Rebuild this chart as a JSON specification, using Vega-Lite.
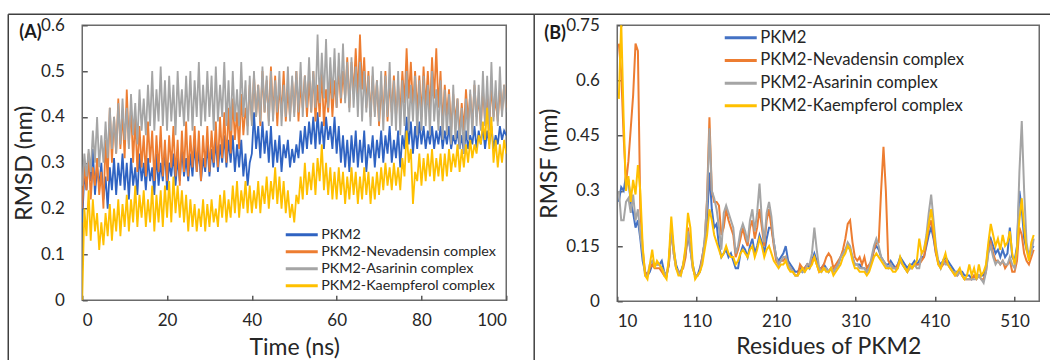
{
"$schema": "https://vega.github.io/schema/vega-lite/v6.json",
"background": "white",
"padding": {"left": 6.25, "top": 12.25, "right": 0, "bottom": 0},
"config": {
  "font": "Lato",
  "view": {"stroke": "#6b6b6b", "strokeWidth": 1.5},
  "axis": {"domain": false, "grid": false, "ticks": true, "tickSize": -5, "tickColor": "#595959", "tickWidth": 1.5, "labelFontSize": 17, "labelColor": "#262626", "labelFont": "Lato", "titleFont": "Lato", "titleFontSize": 23, "titleFontWeight": "normal", "titleColor": "#262626"},
  "legend": {"labelFont": "Lato", "labelColor": "#262626", "labelLimit": 0}
},
"bounds": "flush",
"spacing": 111,
"resolve": {"legend": {"color": "independent"}, "scale": {"color": "independent"}},
"datasets": {
"names": [{"k": "a", "name": "PKM2"}, {"k": "b", "name": "PKM2-Nevadensin complex"}, {"k": "c", "name": "PKM2-Asarinin complex"}, {"k": "d", "name": "PKM2-Kaempferol complex"}],
"rmsd": [
{"t":0,"a":0.17,"b":0.2,"c":0.25,"d":0},{"t":0.5,"a":0.28,"b":0.3,"c":0.32,"d":0.2},{"t":1,"a":0.24,"b":0.24,"c":0.27,"d":0.14},{"t":1.5,"a":0.31,"b":0.32,"c":0.33,"d":0.24},{"t":2,"a":0.26,"b":0.22,"c":0.28,"d":0.13},{"t":2.5,"a":0.33,"b":0.29,"c":0.37,"d":0.22},{"t":3,"a":0.23,"b":0.25,"c":0.3,"d":0.15},{"t":3.5,"a":0.29,"b":0.31,"c":0.4,"d":0.19},{"t":4,"a":0.25,"b":0.23,"c":0.29,"d":0.11},{"t":4.5,"a":0.3,"b":0.28,"c":0.36,"d":0.17},
{"t":5,"a":0.22,"b":0.2,"c":0.3,"d":0.12},{"t":5.5,"a":0.27,"b":0.35,"c":0.39,"d":0.19},{"t":6,"a":0.2,"b":0.26,"c":0.31,"d":0.14},{"t":6.5,"a":0.29,"b":0.42,"c":0.42,"d":0.21},{"t":7,"a":0.24,"b":0.3,"c":0.33,"d":0.13},{"t":7.5,"a":0.31,"b":0.4,"c":0.4,"d":0.2},{"t":8,"a":0.23,"b":0.32,"c":0.32,"d":0.15},{"t":8.5,"a":0.3,"b":0.44,"c":0.43,"d":0.22},{"t":9,"a":0.25,"b":0.33,"c":0.34,"d":0.14},{"t":9.5,"a":0.32,"b":0.41,"c":0.44,"d":0.21},
{"t":10,"a":0.24,"b":0.31,"c":0.35,"d":0.16},{"t":10.5,"a":0.3,"b":0.46,"c":0.42,"d":0.23},{"t":11,"a":0.22,"b":0.34,"c":0.33,"d":0.15},{"t":11.5,"a":0.31,"b":0.42,"c":0.45,"d":0.22},{"t":12,"a":0.25,"b":0.3,"c":0.36,"d":0.17},{"t":12.5,"a":0.29,"b":0.4,"c":0.43,"d":0.25},{"t":13,"a":0.23,"b":0.28,"c":0.34,"d":0.16},{"t":13.5,"a":0.32,"b":0.38,"c":0.46,"d":0.23},{"t":14,"a":0.26,"b":0.29,"c":0.37,"d":0.18},{"t":14.5,"a":0.3,"b":0.36,"c":0.44,"d":0.24},
{"t":15,"a":0.24,"b":0.27,"c":0.36,"d":0.16},{"t":15.5,"a":0.31,"b":0.39,"c":0.47,"d":0.22},{"t":16,"a":0.26,"b":0.3,"c":0.38,"d":0.17},{"t":16.5,"a":0.29,"b":0.37,"c":0.5,"d":0.25},{"t":17,"a":0.23,"b":0.26,"c":0.37,"d":0.15},{"t":17.5,"a":0.32,"b":0.36,"c":0.46,"d":0.23},{"t":18,"a":0.25,"b":0.28,"c":0.39,"d":0.17},{"t":18.5,"a":0.3,"b":0.38,"c":0.51,"d":0.24},{"t":19,"a":0.26,"b":0.27,"c":0.38,"d":0.16},{"t":19.5,"a":0.33,"b":0.35,"c":0.48,"d":0.25},
{"t":20,"a":0.24,"b":0.26,"c":0.37,"d":0.18},{"t":20.5,"a":0.3,"b":0.36,"c":0.49,"d":0.26},{"t":21,"a":0.27,"b":0.29,"c":0.39,"d":0.17},{"t":21.5,"a":0.32,"b":0.38,"c":0.47,"d":0.27},{"t":22,"a":0.25,"b":0.27,"c":0.36,"d":0.19},{"t":22.5,"a":0.31,"b":0.35,"c":0.5,"d":0.25},{"t":23,"a":0.26,"b":0.25,"c":0.4,"d":0.18},{"t":23.5,"a":0.33,"b":0.37,"c":0.46,"d":0.24},{"t":24,"a":0.27,"b":0.28,"c":0.38,"d":0.17},{"t":24.5,"a":0.31,"b":0.39,"c":0.49,"d":0.23},
{"t":25,"a":0.26,"b":0.27,"c":0.39,"d":0.15},{"t":25.5,"a":0.32,"b":0.36,"c":0.5,"d":0.22},{"t":26,"a":0.27,"b":0.29,"c":0.37,"d":0.16},{"t":26.5,"a":0.34,"b":0.38,"c":0.48,"d":0.21},{"t":27,"a":0.28,"b":0.28,"c":0.4,"d":0.15},{"t":27.5,"a":0.33,"b":0.37,"c":0.52,"d":0.2},{"t":28,"a":0.26,"b":0.26,"c":0.38,"d":0.16},{"t":28.5,"a":0.31,"b":0.36,"c":0.47,"d":0.22},{"t":29,"a":0.28,"b":0.29,"c":0.39,"d":0.15},{"t":29.5,"a":0.34,"b":0.38,"c":0.5,"d":0.21},
{"t":30,"a":0.27,"b":0.28,"c":0.4,"d":0.16},{"t":30.5,"a":0.33,"b":0.37,"c":0.49,"d":0.22},{"t":31,"a":0.29,"b":0.3,"c":0.37,"d":0.17},{"t":31.5,"a":0.35,"b":0.39,"c":0.51,"d":0.2},{"t":32,"a":0.28,"b":0.29,"c":0.39,"d":0.16},{"t":32.5,"a":0.34,"b":0.4,"c":0.47,"d":0.23},{"t":33,"a":0.3,"b":0.31,"c":0.4,"d":0.18},{"t":33.5,"a":0.36,"b":0.41,"c":0.52,"d":0.24},{"t":34,"a":0.29,"b":0.3,"c":0.38,"d":0.17},{"t":34.5,"a":0.35,"b":0.42,"c":0.48,"d":0.22},
{"t":35,"a":0.3,"b":0.32,"c":0.37,"d":0.18},{"t":35.5,"a":0.36,"b":0.44,"c":0.5,"d":0.25},{"t":36,"a":0.28,"b":0.35,"c":0.39,"d":0.19},{"t":36.5,"a":0.34,"b":0.41,"c":0.46,"d":0.26},{"t":37,"a":0.29,"b":0.33,"c":0.38,"d":0.18},{"t":37.5,"a":0.35,"b":0.45,"c":0.52,"d":0.24},{"t":38,"a":0.27,"b":0.36,"c":0.4,"d":0.2},{"t":38.5,"a":0.32,"b":0.42,"c":0.48,"d":0.26},{"t":39,"a":0.25,"b":0.38,"c":0.36,"d":0.19},{"t":39.5,"a":0.3,"b":0.47,"c":0.49,"d":0.25},
{"t":40,"a":0.32,"b":0.39,"c":0.38,"d":0.19},{"t":40.5,"a":0.41,"b":0.49,"c":0.5,"d":0.24},{"t":41,"a":0.33,"b":0.4,"c":0.4,"d":0.2},{"t":41.5,"a":0.38,"b":0.47,"c":0.47,"d":0.26},{"t":42,"a":0.31,"b":0.38,"c":0.39,"d":0.19},{"t":42.5,"a":0.39,"b":0.5,"c":0.51,"d":0.25},{"t":43,"a":0.32,"b":0.41,"c":0.41,"d":0.21},{"t":43.5,"a":0.37,"b":0.48,"c":0.49,"d":0.27},{"t":44,"a":0.3,"b":0.39,"c":0.38,"d":0.2},{"t":44.5,"a":0.38,"b":0.51,"c":0.5,"d":0.26},
{"t":45,"a":0.29,"b":0.4,"c":0.39,"d":0.22},{"t":45.5,"a":0.35,"b":0.49,"c":0.48,"d":0.29},{"t":46,"a":0.3,"b":0.38,"c":0.41,"d":0.21},{"t":46.5,"a":0.36,"b":0.47,"c":0.5,"d":0.27},{"t":47,"a":0.28,"b":0.41,"c":0.38,"d":0.2},{"t":47.5,"a":0.34,"b":0.5,"c":0.47,"d":0.26},{"t":48,"a":0.31,"b":0.39,"c":0.4,"d":0.19},{"t":48.5,"a":0.35,"b":0.46,"c":0.51,"d":0.24},{"t":49,"a":0.29,"b":0.4,"c":0.39,"d":0.18},{"t":49.5,"a":0.33,"b":0.48,"c":0.49,"d":0.21},
{"t":50,"a":0.3,"b":0.41,"c":0.4,"d":0.17},{"t":50.5,"a":0.34,"b":0.5,"c":0.5,"d":0.23},{"t":51,"a":0.31,"b":0.39,"c":0.41,"d":0.21},{"t":51.5,"a":0.37,"b":0.47,"c":0.52,"d":0.27},{"t":52,"a":0.32,"b":0.42,"c":0.4,"d":0.22},{"t":52.5,"a":0.38,"b":0.49,"c":0.49,"d":0.3},{"t":53,"a":0.33,"b":0.4,"c":0.42,"d":0.23},{"t":53.5,"a":0.39,"b":0.48,"c":0.53,"d":0.28},{"t":54,"a":0.34,"b":0.41,"c":0.41,"d":0.24},{"t":54.5,"a":0.4,"b":0.5,"c":0.5,"d":0.3},
{"t":55,"a":0.33,"b":0.39,"c":0.42,"d":0.23},{"t":55.5,"a":0.41,"b":0.47,"c":0.58,"d":0.31},{"t":56,"a":0.34,"b":0.4,"c":0.43,"d":0.26},{"t":56.5,"a":0.39,"b":0.5,"c":0.54,"d":0.34},{"t":57,"a":0.33,"b":0.38,"c":0.44,"d":0.24},{"t":57.5,"a":0.4,"b":0.46,"c":0.57,"d":0.3},{"t":58,"a":0.35,"b":0.41,"c":0.42,"d":0.23},{"t":58.5,"a":0.38,"b":0.49,"c":0.53,"d":0.29},{"t":59,"a":0.33,"b":0.4,"c":0.44,"d":0.22},{"t":59.5,"a":0.4,"b":0.48,"c":0.55,"d":0.28},
{"t":60,"a":0.32,"b":0.42,"c":0.42,"d":0.22},{"t":60.5,"a":0.38,"b":0.51,"c":0.54,"d":0.29},{"t":61,"a":0.3,"b":0.43,"c":0.44,"d":0.23},{"t":61.5,"a":0.36,"b":0.5,"c":0.56,"d":0.28},{"t":62,"a":0.29,"b":0.44,"c":0.43,"d":0.21},{"t":62.5,"a":0.35,"b":0.53,"c":0.52,"d":0.27},{"t":63,"a":0.28,"b":0.42,"c":0.41,"d":0.22},{"t":63.5,"a":0.36,"b":0.52,"c":0.53,"d":0.29},{"t":64,"a":0.3,"b":0.45,"c":0.42,"d":0.23},{"t":64.5,"a":0.37,"b":0.55,"c":0.51,"d":0.28},
{"t":65,"a":0.29,"b":0.44,"c":0.4,"d":0.21},{"t":65.5,"a":0.35,"b":0.58,"c":0.52,"d":0.27},{"t":66,"a":0.3,"b":0.46,"c":0.39,"d":0.22},{"t":66.5,"a":0.37,"b":0.53,"c":0.5,"d":0.29},{"t":67,"a":0.28,"b":0.42,"c":0.41,"d":0.23},{"t":67.5,"a":0.34,"b":0.5,"c":0.49,"d":0.28},{"t":68,"a":0.31,"b":0.4,"c":0.38,"d":0.21},{"t":68.5,"a":0.36,"b":0.49,"c":0.51,"d":0.27},{"t":69,"a":0.29,"b":0.41,"c":0.4,"d":0.22},{"t":69.5,"a":0.35,"b":0.48,"c":0.48,"d":0.28},
{"t":70,"a":0.31,"b":0.38,"c":0.39,"d":0.23},{"t":70.5,"a":0.37,"b":0.47,"c":0.5,"d":0.29},{"t":71,"a":0.3,"b":0.4,"c":0.37,"d":0.24},{"t":71.5,"a":0.36,"b":0.5,"c":0.49,"d":0.3},{"t":72,"a":0.32,"b":0.39,"c":0.4,"d":0.25},{"t":72.5,"a":0.38,"b":0.48,"c":0.52,"d":0.29},{"t":73,"a":0.3,"b":0.41,"c":0.38,"d":0.24},{"t":73.5,"a":0.35,"b":0.49,"c":0.48,"d":0.3},{"t":74,"a":0.31,"b":0.4,"c":0.37,"d":0.25},{"t":74.5,"a":0.37,"b":0.47,"c":0.5,"d":0.29},
{"t":75,"a":0.29,"b":0.41,"c":0.36,"d":0.24},{"t":75.5,"a":0.36,"b":0.5,"c":0.48,"d":0.31},{"t":76,"a":0.33,"b":0.43,"c":0.38,"d":0.27},{"t":76.5,"a":0.4,"b":0.55,"c":0.5,"d":0.37},{"t":77,"a":0.34,"b":0.44,"c":0.37,"d":0.3},{"t":77.5,"a":0.39,"b":0.52,"c":0.47,"d":0.33},{"t":78,"a":0.32,"b":0.42,"c":0.39,"d":0.21},{"t":78.5,"a":0.38,"b":0.5,"c":0.49,"d":0.28},{"t":79,"a":0.33,"b":0.41,"c":0.36,"d":0.26},{"t":79.5,"a":0.39,"b":0.49,"c":0.48,"d":0.32},
{"t":80,"a":0.34,"b":0.4,"c":0.37,"d":0.25},{"t":80.5,"a":0.38,"b":0.51,"c":0.49,"d":0.31},{"t":81,"a":0.33,"b":0.42,"c":0.38,"d":0.26},{"t":81.5,"a":0.37,"b":0.5,"c":0.47,"d":0.32},{"t":82,"a":0.34,"b":0.41,"c":0.36,"d":0.27},{"t":82.5,"a":0.38,"b":0.53,"c":0.5,"d":0.33},{"t":83,"a":0.33,"b":0.44,"c":0.39,"d":0.26},{"t":83.5,"a":0.37,"b":0.55,"c":0.46,"d":0.31},{"t":84,"a":0.34,"b":0.42,"c":0.37,"d":0.27},{"t":84.5,"a":0.38,"b":0.5,"c":0.48,"d":0.32},
{"t":85,"a":0.33,"b":0.38,"c":0.35,"d":0.26},{"t":85.5,"a":0.37,"b":0.47,"c":0.46,"d":0.32},{"t":86,"a":0.34,"b":0.4,"c":0.36,"d":0.27},{"t":86.5,"a":0.38,"b":0.46,"c":0.45,"d":0.33},{"t":87,"a":0.33,"b":0.37,"c":0.34,"d":0.28},{"t":87.5,"a":0.36,"b":0.45,"c":0.47,"d":0.32},{"t":88,"a":0.34,"b":0.39,"c":0.35,"d":0.29},{"t":88.5,"a":0.37,"b":0.44,"c":0.44,"d":0.34},{"t":89,"a":0.33,"b":0.36,"c":0.33,"d":0.28},{"t":89.5,"a":0.36,"b":0.43,"c":0.42,"d":0.33},
{"t":90,"a":0.32,"b":0.37,"c":0.32,"d":0.29},{"t":90.5,"a":0.37,"b":0.46,"c":0.44,"d":0.34},{"t":91,"a":0.33,"b":0.39,"c":0.35,"d":0.3},{"t":91.5,"a":0.36,"b":0.45,"c":0.46,"d":0.35},{"t":92,"a":0.34,"b":0.38,"c":0.36,"d":0.31},{"t":92.5,"a":0.38,"b":0.47,"c":0.48,"d":0.34},{"t":93,"a":0.33,"b":0.4,"c":0.38,"d":0.32},{"t":93.5,"a":0.37,"b":0.44,"c":0.47,"d":0.36},{"t":94,"a":0.34,"b":0.38,"c":0.37,"d":0.34},{"t":94.5,"a":0.38,"b":0.46,"c":0.5,"d":0.39},
{"t":95,"a":0.33,"b":0.39,"c":0.38,"d":0.35},{"t":95.5,"a":0.37,"b":0.45,"c":0.49,"d":0.42},{"t":96,"a":0.34,"b":0.38,"c":0.37,"d":0.33},{"t":96.5,"a":0.38,"b":0.47,"c":0.52,"d":0.4},{"t":97,"a":0.33,"b":0.4,"c":0.39,"d":0.3},{"t":97.5,"a":0.36,"b":0.44,"c":0.48,"d":0.35},{"t":98,"a":0.34,"b":0.39,"c":0.38,"d":0.29},{"t":98.5,"a":0.38,"b":0.46,"c":0.51,"d":0.34},{"t":99,"a":0.35,"b":0.41,"c":0.4,"d":0.3},{"t":99.5,"a":0.37,"b":0.47,"c":0.47,"d":0.35},{"t":100,"a":0.36,"b":0.42,"c":0.41,"d":0.32}
],
"rmsf": [
{"r":12,"a":0.27,"b":0.7,"c":0.3,"d":0.55},{"r":15,"a":0.31,"b":0.62,"c":0.22,"d":0.76},{"r":18,"a":0.3,"b":0.45,"c":0.22,"d":0.5},{"r":21,"a":0.34,"b":0.32,"c":0.27,"d":0.3},{"r":24,"a":0.33,"b":0.38,"c":0.28,"d":0.34},{"r":27,"a":0.27,"b":0.47,"c":0.24,"d":0.27},{"r":30,"a":0.24,"b":0.56,"c":0.29,"d":0.33},{"r":33,"a":0.2,"b":0.7,"c":0.22,"d":0.29},{"r":36,"a":0.22,"b":0.68,"c":0.25,"d":0.37},{"r":39,"a":0.17,"b":0.25,"c":0.18,"d":0.3},
{"r":42,"a":0.11,"b":0.14,"c":0.13,"d":0.15},{"r":45,"a":0.08,"b":0.08,"c":0.07,"d":0.07},{"r":48,"a":0.07,"b":0.07,"c":0.07,"d":0.06},{"r":51,"a":0.08,"b":0.09,"c":0.1,"d":0.1},{"r":54,"a":0.1,"b":0.1,"c":0.11,"d":0.14},{"r":57,"a":0.1,"b":0.09,"c":0.1,"d":0.09},{"r":60,"a":0.1,"b":0.09,"c":0.1,"d":0.11},{"r":63,"a":0.1,"b":0.09,"c":0.1,"d":0.1},{"r":66,"a":0.11,"b":0.08,"c":0.09,"d":0.09},{"r":69,"a":0.08,"b":0.07,"c":0.08,"d":0.07},
{"r":72,"a":0.07,"b":0.07,"c":0.07,"d":0.06},{"r":75,"a":0.1,"b":0.1,"c":0.11,"d":0.12},{"r":78,"a":0.2,"b":0.2,"c":0.2,"d":0.23},{"r":81,"a":0.14,"b":0.13,"c":0.13,"d":0.15},{"r":84,"a":0.1,"b":0.09,"c":0.09,"d":0.09},{"r":87,"a":0.08,"b":0.08,"c":0.08,"d":0.07},{"r":90,"a":0.08,"b":0.08,"c":0.07,"d":0.07},{"r":93,"a":0.1,"b":0.09,"c":0.1,"d":0.1},{"r":96,"a":0.13,"b":0.12,"c":0.14,"d":0.15},{"r":99,"a":0.18,"b":0.2,"c":0.19,"d":0.24},
{"r":102,"a":0.14,"b":0.15,"c":0.14,"d":0.2},{"r":105,"a":0.1,"b":0.09,"c":0.09,"d":0.1},{"r":108,"a":0.07,"b":0.07,"c":0.07,"d":0.06},{"r":111,"a":0.07,"b":0.07,"c":0.07,"d":0.07},{"r":114,"a":0.09,"b":0.08,"c":0.08,"d":0.08},{"r":117,"a":0.12,"b":0.12,"c":0.11,"d":0.1},{"r":120,"a":0.16,"b":0.16,"c":0.17,"d":0.14},{"r":123,"a":0.22,"b":0.28,"c":0.27,"d":0.18},{"r":126,"a":0.35,"b":0.5,"c":0.47,"d":0.25},{"r":129,"a":0.25,"b":0.3,"c":0.3,"d":0.22},
{"r":132,"a":0.2,"b":0.27,"c":0.28,"d":0.18},{"r":135,"a":0.21,"b":0.27,"c":0.25,"d":0.16},{"r":138,"a":0.15,"b":0.26,"c":0.2,"d":0.14},{"r":141,"a":0.12,"b":0.18,"c":0.14,"d":0.12},{"r":144,"a":0.13,"b":0.2,"c":0.24,"d":0.13},{"r":147,"a":0.14,"b":0.25,"c":0.26,"d":0.15},{"r":150,"a":0.12,"b":0.22,"c":0.24,"d":0.13},{"r":153,"a":0.13,"b":0.2,"c":0.22,"d":0.12},{"r":156,"a":0.11,"b":0.18,"c":0.2,"d":0.12},{"r":159,"a":0.09,"b":0.12,"c":0.13,"d":0.1},
{"r":162,"a":0.09,"b":0.14,"c":0.15,"d":0.11},{"r":165,"a":0.13,"b":0.17,"c":0.19,"d":0.13},{"r":168,"a":0.15,"b":0.2,"c":0.21,"d":0.14},{"r":171,"a":0.14,"b":0.17,"c":0.19,"d":0.13},{"r":174,"a":0.12,"b":0.15,"c":0.16,"d":0.12},{"r":177,"a":0.15,"b":0.2,"c":0.22,"d":0.14},{"r":180,"a":0.17,"b":0.22,"c":0.25,"d":0.15},{"r":183,"a":0.13,"b":0.17,"c":0.19,"d":0.12},{"r":186,"a":0.15,"b":0.2,"c":0.24,"d":0.14},{"r":189,"a":0.18,"b":0.25,"c":0.32,"d":0.17},
{"r":192,"a":0.16,"b":0.2,"c":0.22,"d":0.15},{"r":195,"a":0.13,"b":0.15,"c":0.16,"d":0.12},{"r":198,"a":0.17,"b":0.22,"c":0.24,"d":0.14},{"r":201,"a":0.2,"b":0.25,"c":0.27,"d":0.15},{"r":204,"a":0.2,"b":0.2,"c":0.23,"d":0.13},{"r":207,"a":0.16,"b":0.15,"c":0.16,"d":0.11},{"r":210,"a":0.12,"b":0.11,"c":0.12,"d":0.1},{"r":213,"a":0.11,"b":0.1,"c":0.1,"d":0.09},{"r":216,"a":0.12,"b":0.11,"c":0.11,"d":0.1},{"r":219,"a":0.13,"b":0.11,"c":0.12,"d":0.1},
{"r":222,"a":0.15,"b":0.12,"c":0.12,"d":0.11},{"r":225,"a":0.11,"b":0.1,"c":0.1,"d":0.09},{"r":228,"a":0.1,"b":0.09,"c":0.09,"d":0.08},{"r":231,"a":0.09,"b":0.08,"c":0.08,"d":0.08},{"r":234,"a":0.08,"b":0.07,"c":0.07,"d":0.07},{"r":237,"a":0.08,"b":0.07,"c":0.07,"d":0.07},{"r":240,"a":0.09,"b":0.1,"c":0.08,"d":0.08},{"r":243,"a":0.08,"b":0.09,"c":0.08,"d":0.09},{"r":246,"a":0.09,"b":0.09,"c":0.08,"d":0.08},{"r":249,"a":0.1,"b":0.1,"c":0.1,"d":0.09},
{"r":252,"a":0.09,"b":0.1,"c":0.1,"d":0.09},{"r":255,"a":0.11,"b":0.11,"c":0.13,"d":0.1},{"r":258,"a":0.13,"b":0.12,"c":0.2,"d":0.12},{"r":261,"a":0.11,"b":0.1,"c":0.14,"d":0.1},{"r":264,"a":0.09,"b":0.08,"c":0.09,"d":0.08},{"r":267,"a":0.09,"b":0.09,"c":0.08,"d":0.08},{"r":270,"a":0.1,"b":0.1,"c":0.09,"d":0.09},{"r":273,"a":0.09,"b":0.12,"c":0.09,"d":0.08},{"r":276,"a":0.08,"b":0.13,"c":0.08,"d":0.08},{"r":279,"a":0.09,"b":0.12,"c":0.09,"d":0.09},
{"r":282,"a":0.08,"b":0.09,"c":0.08,"d":0.07},{"r":285,"a":0.09,"b":0.1,"c":0.09,"d":0.08},{"r":288,"a":0.1,"b":0.11,"c":0.1,"d":0.09},{"r":291,"a":0.12,"b":0.12,"c":0.12,"d":0.1},{"r":294,"a":0.13,"b":0.14,"c":0.13,"d":0.12},{"r":297,"a":0.14,"b":0.17,"c":0.14,"d":0.13},{"r":300,"a":0.15,"b":0.21,"c":0.16,"d":0.15},{"r":303,"a":0.14,"b":0.22,"c":0.15,"d":0.14},{"r":306,"a":0.12,"b":0.16,"c":0.12,"d":0.11},{"r":309,"a":0.1,"b":0.12,"c":0.1,"d":0.09},
{"r":312,"a":0.1,"b":0.11,"c":0.1,"d":0.09},{"r":315,"a":0.1,"b":0.12,"c":0.09,"d":0.08},{"r":318,"a":0.09,"b":0.1,"c":0.09,"d":0.08},{"r":321,"a":0.09,"b":0.12,"c":0.09,"d":0.08},{"r":324,"a":0.08,"b":0.09,"c":0.08,"d":0.07},{"r":327,"a":0.09,"b":0.1,"c":0.09,"d":0.08},{"r":330,"a":0.11,"b":0.11,"c":0.12,"d":0.1},{"r":333,"a":0.14,"b":0.14,"c":0.15,"d":0.12},{"r":336,"a":0.15,"b":0.16,"c":0.17,"d":0.13},{"r":339,"a":0.14,"b":0.16,"c":0.15,"d":0.12},
{"r":342,"a":0.12,"b":0.3,"c":0.12,"d":0.11},{"r":345,"a":0.11,"b":0.42,"c":0.11,"d":0.1},{"r":348,"a":0.1,"b":0.3,"c":0.1,"d":0.09},{"r":351,"a":0.1,"b":0.11,"c":0.09,"d":0.09},{"r":354,"a":0.11,"b":0.1,"c":0.1,"d":0.09},{"r":357,"a":0.1,"b":0.09,"c":0.09,"d":0.08},{"r":360,"a":0.09,"b":0.09,"c":0.09,"d":0.08},{"r":363,"a":0.1,"b":0.1,"c":0.09,"d":0.09},{"r":366,"a":0.12,"b":0.11,"c":0.11,"d":0.12},{"r":369,"a":0.11,"b":0.1,"c":0.1,"d":0.1},
{"r":372,"a":0.1,"b":0.09,"c":0.09,"d":0.09},{"r":375,"a":0.09,"b":0.08,"c":0.08,"d":0.08},{"r":378,"a":0.1,"b":0.09,"c":0.09,"d":0.1},{"r":381,"a":0.1,"b":0.09,"c":0.09,"d":0.09},{"r":384,"a":0.11,"b":0.1,"c":0.1,"d":0.1},{"r":387,"a":0.1,"b":0.1,"c":0.09,"d":0.11},{"r":390,"a":0.11,"b":0.1,"c":0.09,"d":0.17},{"r":393,"a":0.12,"b":0.11,"c":0.13,"d":0.13},{"r":396,"a":0.12,"b":0.12,"c":0.14,"d":0.14},{"r":399,"a":0.15,"b":0.16,"c":0.18,"d":0.17},
{"r":402,"a":0.18,"b":0.2,"c":0.24,"d":0.21},{"r":405,"a":0.2,"b":0.22,"c":0.29,"d":0.25},{"r":408,"a":0.17,"b":0.18,"c":0.22,"d":0.2},{"r":411,"a":0.13,"b":0.13,"c":0.15,"d":0.14},{"r":414,"a":0.11,"b":0.1,"c":0.11,"d":0.1},{"r":417,"a":0.1,"b":0.09,"c":0.09,"d":0.09},{"r":420,"a":0.11,"b":0.1,"c":0.11,"d":0.11},{"r":423,"a":0.12,"b":0.11,"c":0.1,"d":0.13},{"r":426,"a":0.11,"b":0.1,"c":0.1,"d":0.1},{"r":429,"a":0.1,"b":0.09,"c":0.09,"d":0.09},
{"r":432,"a":0.09,"b":0.08,"c":0.08,"d":0.08},{"r":435,"a":0.08,"b":0.07,"c":0.08,"d":0.07},{"r":438,"a":0.08,"b":0.07,"c":0.07,"d":0.08},{"r":441,"a":0.08,"b":0.08,"c":0.08,"d":0.09},{"r":444,"a":0.08,"b":0.07,"c":0.07,"d":0.07},{"r":447,"a":0.07,"b":0.06,"c":0.06,"d":0.06},{"r":450,"a":0.07,"b":0.06,"c":0.06,"d":0.07},{"r":453,"a":0.07,"b":0.06,"c":0.06,"d":0.1},{"r":456,"a":0.06,"b":0.06,"c":0.06,"d":0.07},{"r":459,"a":0.07,"b":0.07,"c":0.06,"d":0.09},
{"r":462,"a":0.07,"b":0.06,"c":0.06,"d":0.06},{"r":465,"a":0.07,"b":0.07,"c":0.07,"d":0.1},{"r":468,"a":0.07,"b":0.06,"c":0.06,"d":0.07},{"r":471,"a":0.07,"b":0.06,"c":0.05,"d":0.08},{"r":474,"a":0.09,"b":0.08,"c":0.08,"d":0.1},{"r":477,"a":0.15,"b":0.14,"c":0.13,"d":0.16},{"r":480,"a":0.17,"b":0.16,"c":0.15,"d":0.21},{"r":483,"a":0.15,"b":0.13,"c":0.12,"d":0.18},{"r":486,"a":0.13,"b":0.11,"c":0.1,"d":0.15},{"r":489,"a":0.14,"b":0.11,"c":0.11,"d":0.17},
{"r":492,"a":0.12,"b":0.1,"c":0.1,"d":0.14},{"r":495,"a":0.14,"b":0.11,"c":0.11,"d":0.18},{"r":498,"a":0.12,"b":0.09,"c":0.1,"d":0.15},{"r":501,"a":0.13,"b":0.1,"c":0.1,"d":0.16},{"r":504,"a":0.2,"b":0.11,"c":0.12,"d":0.19},{"r":507,"a":0.12,"b":0.08,"c":0.1,"d":0.13},{"r":510,"a":0.11,"b":0.08,"c":0.09,"d":0.1},{"r":513,"a":0.15,"b":0.11,"c":0.14,"d":0.14},{"r":516,"a":0.3,"b":0.2,"c":0.35,"d":0.22},{"r":519,"a":0.25,"b":0.18,"c":0.49,"d":0.28},
{"r":522,"a":0.17,"b":0.13,"c":0.3,"d":0.2},{"r":525,"a":0.14,"b":0.11,"c":0.16,"d":0.14},{"r":528,"a":0.13,"b":0.1,"c":0.12,"d":0.11},{"r":531,"a":0.14,"b":0.12,"c":0.13,"d":0.16},{"r":534,"a":0.15,"b":0.14,"c":0.17,"d":0.18}
]
},
"hconcat": [
{
  "width": 424, "height": 275,
  "title": {"text": "(A)", "anchor": "start", "frame": "group", "dx": -63, "offset": -28, "fontSize": 18, "fontWeight": "bold", "color": "#1a1a1a", "font": "Lato"},
  "layer": [
    {
      "data": {"name": "rmsd"},
      "transform": [{"fold": ["a", "b", "c", "d"], "as": ["k", "v"]}, {"lookup": "k", "from": {"data": {"name": "names"}, "key": "k", "fields": ["name"]}}],
      "mark": {"type": "line", "strokeWidth": 1.8, "clip": true},
      "encoding": {
        "x": {"field": "t", "type": "quantitative", "scale": {"domain": [0, 100], "nice": false}, "axis": {"values": [0, 20, 40, 60, 80, 100], "title": "Time (ns)", "labelPadding": 17, "titlePadding": 8}},
        "y": {"field": "v", "type": "quantitative", "scale": {"domain": [0, 0.6], "nice": false}, "axis": {"values": [0, 0.1, 0.2, 0.3, 0.4, 0.5, 0.6], "format": ".1~f", "title": "RMSD (nm)", "labelPadding": 23, "titlePadding": 4}},
        "color": {"field": "name", "type": "nominal", "sort": null,
          "scale": {"domain": ["PKM2", "PKM2-Nevadensin complex", "PKM2-Asarinin complex", "PKM2-Kaempferol complex"], "range": ["#2f63c2", "#ed7d31", "#a5a5a5", "#ffc000"]},
          "legend": {"title": null, "orient": "none", "legendX": 202, "legendY": 202, "symbolType": "stroke", "symbolSize": 1024, "symbolStrokeWidth": 3, "labelFontSize": 14.3, "labelOffset": 2, "clipHeight": 15, "rowPadding": 2, "padding": 0}}
      }
    },
    {
      "data": {"values": [{}]},
      "mark": {"type": "rule", "clip": false, "color": "#404040", "strokeWidth": 1.5},
      "encoding": {"x": {"datum": -17.45}, "x2": {"datum": 106.6}, "y": {"datum": 0.624}}
    },
    {
      "data": {"values": [{}]},
      "mark": {"type": "rule", "clip": false, "color": "#404040", "strokeWidth": 1.5},
      "encoding": {"x": {"datum": -17.45}, "y": {"datum": 0.624}, "y2": {"datum": -0.14}}
    }
  ]
},
{
  "width": 422, "height": 276,
  "title": {"text": "(B)", "anchor": "start", "frame": "group", "dx": -73, "offset": -30, "fontSize": 18, "fontWeight": "bold", "color": "#1a1a1a", "font": "Lato"},
  "layer": [
    {
      "data": {"name": "rmsf"},
      "transform": [{"fold": ["a", "b", "c", "d"], "as": ["k", "v"]}, {"lookup": "k", "from": {"data": {"name": "names"}, "key": "k", "fields": ["name"]}}],
      "mark": {"type": "line", "strokeWidth": 2, "clip": true},
      "encoding": {
        "x": {"field": "r", "type": "quantitative", "scale": {"domain": [10, 541], "nice": false}, "axis": {"values": [10, 110, 210, 310, 410, 510], "title": "Residues of PKM2", "labelPadding": 17, "titlePadding": 6}},
        "y": {"field": "v", "type": "quantitative", "scale": {"domain": [0, 0.75], "nice": false}, "axis": {"values": [0, 0.15, 0.3, 0.45, 0.6, 0.75], "format": ".2~f", "title": "RMSF (nm)", "labelPadding": 23, "titlePadding": 4}},
        "color": {"field": "name", "type": "nominal", "sort": null,
          "scale": {"domain": ["PKM2", "PKM2-Nevadensin complex", "PKM2-Asarinin complex", "PKM2-Kaempferol complex"], "range": ["#4472c4", "#ed7d31", "#a5a5a5", "#ffc000"]},
          "legend": {"title": null, "orient": "none", "legendX": 106, "legendY": 4, "symbolType": "stroke", "symbolSize": 1024, "symbolStrokeWidth": 3, "labelFontSize": 16.7, "labelOffset": 2, "clipHeight": 17, "rowPadding": 4.7, "padding": 0}}
      }
    },
    {
      "data": {"values": [{}]},
      "mark": {"type": "rule", "clip": false, "color": "#404040", "strokeWidth": 1.5},
      "encoding": {"x": {"datum": -94.5}, "x2": {"datum": 556}, "y": {"datum": 0.78}}
    },
    {
      "data": {"values": [{}]},
      "mark": {"type": "rule", "clip": false, "color": "#404040", "strokeWidth": 1.5},
      "encoding": {"x": {"datum": -94.5}, "y": {"datum": 0.78}, "y2": {"datum": -0.17}}
    }
  ]
}
]
}
